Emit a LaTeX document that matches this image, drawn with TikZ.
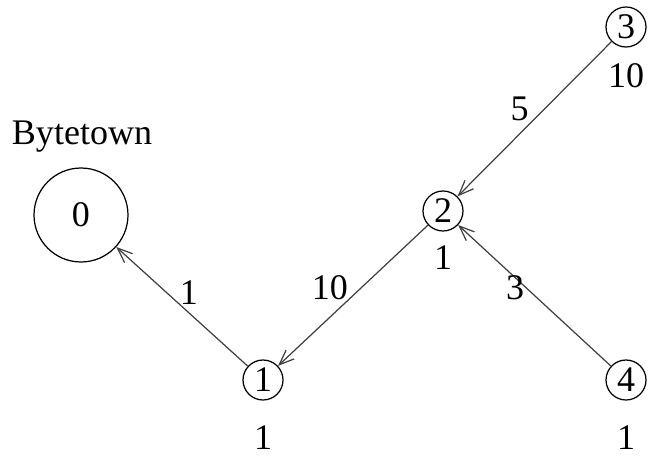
\documentclass[tikz,border=0pt]{standalone}
\usepackage{fontspec}
\setmainfont{Liberation Serif}
\usetikzlibrary{arrows.meta}

\begin{document}
\begin{tikzpicture}[x=0.02cm, y=-0.02cm]
        % ================= styles =================
        \tikzset{
            % small town node
            town/.style={circle, draw=black, line width=0.7pt, minimum size=0.8cm, inner sep=0pt},
            % capital node
            capital/.style={circle, draw=black, line width=0.7pt, minimum size=1.88cm, inner sep=0pt},
            % road with direction
            road/.style={line width=0.7pt, black!75, -{Straight Barb[length=3mm, width=2.4mm]}},
            % weights
            wlab/.style={font=\fontsize{20.5}{24}\selectfont, text=black, inner sep=1pt}
        }
        \useasboundingbox (0,0) rectangle (648,456);

        % ================= nodes =================
        \node[capital, wlab] (t0) at (81,215) {0};
        \node[wlab] (name0) at (82,137) {Bytetown};
        \node[town, wlab, label={[wlab, label distance=13pt]below:1}] (t1) at (263,380) {1};
        \node[town, wlab, label={[wlab, label distance=7pt]below:1}] (t2) at (443,211) {2};
        \node[town, wlab, label={[wlab, label distance=8pt]below:10}] (t3) at (626,27) {3};
        \node[town, wlab, label={[wlab, label distance=13pt]below:1}] (t4) at (626,380) {4};

        % ================= roads =================
        \draw[road] (t3) -- node[wlab, above left=2pt, yshift=-4.5pt] {5} (t2);
        \draw[road] (t2) -- node[wlab, above left=2pt, xshift=0.5pt, yshift=-6pt] {10} (t1);
        \draw[road] (t4) -- node[wlab, above right=2pt, xshift=-19.5pt, yshift=-6pt] {3} (t2);
        \draw[road] (t1) -- node[wlab, above right=2pt, xshift=-4.5pt, yshift=-2.3pt] {1} (t0);

    \end{tikzpicture}
\end{document}
